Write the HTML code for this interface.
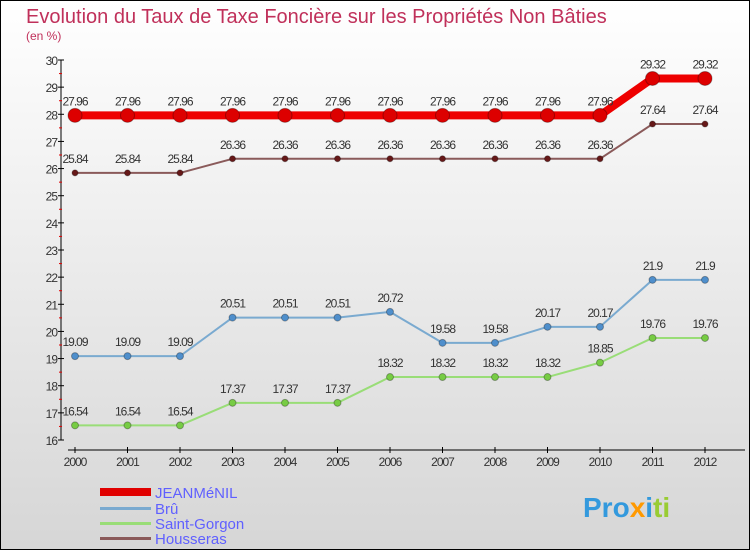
<!DOCTYPE html>
<html><head><meta charset="utf-8"><style>
body{margin:0;width:750px;height:550px;overflow:hidden;font-family:"Liberation Sans",sans-serif}
svg{display:block}
</style></head><body>
<svg id="c" width="750" height="550" xmlns="http://www.w3.org/2000/svg">
<defs><linearGradient id="bg" x1="0" y1="0" x2="0" y2="1"><stop offset="0" stop-color="#ffffff"/><stop offset="1" stop-color="#d6d6d6"/></linearGradient></defs>
<rect x="0.5" y="0.5" width="749" height="549" fill="url(#bg)" stroke="#000"/>
<text x="26" y="23" font-size="20" fill="#c0305a">Evolution du Taux de Taxe Foncière sur les Propriétés Non Bâties</text>
<text x="26" y="40" font-size="12" fill="#c0305a">(en %)</text>
<g id="axes"></g><g id="series"></g>
<g>
<rect x="100" y="488" width="51" height="8" fill="#e00000"/>
<text x="155" y="498" font-size="15" fill="#6060ff">JEANMéNIL</text>
<rect x="100" y="507" width="51" height="3" fill="#7aaad0"/>
<text x="155" y="514" font-size="15" fill="#6060ff">Brû</text>
<rect x="100" y="522" width="51" height="3" fill="#99dd77"/>
<text x="155" y="529" font-size="15" fill="#6060ff">Saint-Gorgon</text>
<rect x="100" y="537" width="51" height="3" fill="#8a5a5a"/>
<text x="155" y="544" font-size="15" fill="#6060ff">Housseras</text>
</g>
<g font-size="28" font-weight="bold">
<text x="583" y="517" fill="#3399dd">Pro<tspan fill="#ff9900">x</tspan><tspan fill="#3399dd">i</tspan><tspan fill="#99cc33">ti</tspan></text>
</g>
</svg>
<script>
const years=[2000,2001,2002,2003,2004,2005,2006,2007,2008,2009,2010,2011,2012];
const jeanmenil=[27.96,27.96,27.96,27.96,27.96,27.96,27.96,27.96,27.96,27.96,27.96,29.32,29.32];
const housseras=[25.84,25.84,25.84,26.36,26.36,26.36,26.36,26.36,26.36,26.36,26.36,27.64,27.64];
const bru=[19.09,19.09,19.09,20.51,20.51,20.51,20.72,19.58,19.58,20.17,20.17,21.9,21.9];
const saintGorgon=[16.54,16.54,16.54,17.37,17.37,17.37,18.32,18.32,18.32,18.32,18.85,19.76,19.76];
const yTicks=[16,17,18,19,20,21,22,23,24,25,26,27,28,29,30];
const NS="http://www.w3.org/2000/svg";
const xs=i=>75+i*52.5;
const ys=v=>440-(v-16)*(380/14);
function mk(t,a,p){const e=document.createElementNS(NS,t);for(const k in a)e.setAttribute(k,a[k]);p.appendChild(e);return e;}
const ax=document.getElementById('axes');
const yl=mk('line',{x1:61,y1:60,x2:61,y2:440,stroke:'#000'},ax);


yTicks.forEach(v=>{
 mk('line',{x1:58,x2:64,y1:ys(v),y2:ys(v),stroke:'#000'},ax);
 if(v<30)mk('line',{x1:59,x2:62,y1:ys(v+0.5),y2:ys(v+0.5),stroke:'#e00000'},ax);
 const t=mk('text',{x:57,y:ys(v)+5,'font-size':12,'text-anchor':'end',fill:'#333','letter-spacing':'-1'},ax);
 t.textContent=v;
 
 
});
const xl=mk('line',{x1:68,y1:450,x2:745,y2:450,stroke:'#000'},ax);


years.forEach((y,i)=>{
 mk('line',{x1:xs(i),x2:xs(i),y1:447,y2:453,stroke:'#000'},ax);
 const t=mk('text',{x:xs(i),y:466,'font-size':12,'text-anchor':'middle',fill:'#333','letter-spacing':'-1'},ax);
 t.textContent=y;
 
 
});
const sg=document.getElementById('series');
function series(name,vals,color,w,r,dot){
 const g=mk('g',{},sg);
 
 
 const pl=mk('polyline',{points:vals.map((v,i)=>xs(i)+','+ys(v)).join(' '),fill:'none',stroke:color,'stroke-width':w,'stroke-linejoin':'round'},g);
 
 
 vals.forEach((v,i)=>{
  const c=mk('circle',{cx:xs(i),cy:ys(v),r:r,fill:dot,stroke:'rgba(0,0,0,0.3)','stroke-width':1},g);
  
  
  const t=mk('text',{x:xs(i),y:ys(v)-10,'font-size':12,'text-anchor':'middle',fill:'#333','letter-spacing':'-1'},g);
  t.textContent=v;
  
  
 });
}
series('saint-gorgon',saintGorgon,'#99dd77',2,3.5,'#77cc44');
series('bru',bru,'#7aaad0',2,3.5,'#4f8fcc');
series('housseras',housseras,'#8a5a5a',2,3,'#661818');
series('jeanmenil',jeanmenil,'#ee0000',8,7,'#dd0000');
</script>
</body></html>
